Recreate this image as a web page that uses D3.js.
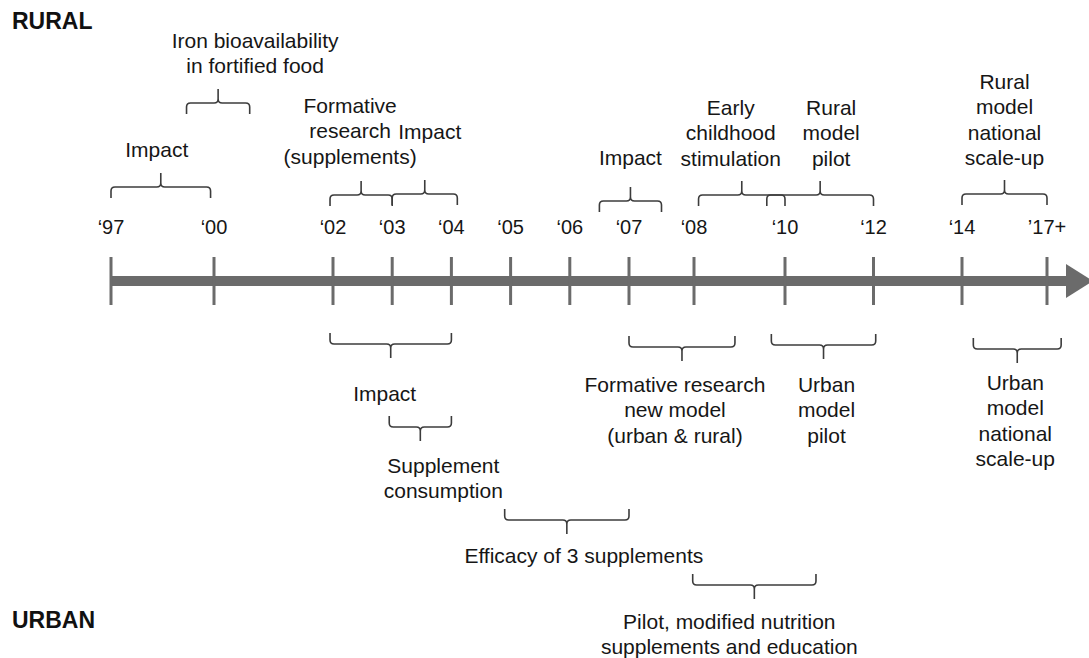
<!DOCTYPE html>
<html><head><meta charset="utf-8">
<script src="https://cdn.jsdelivr.net/npm/d3@7"></script>
<style>body{margin:0;background:#fff}svg{display:block}</style>
</head><body>
<script>
// ---------- data ----------
const tickYears  = [1997, 2000, 2002, 2003, 2004, 2005, 2006, 2007, 2008, 2010, 2012, 2014, 2017];
const tickLabels = ["‘97","‘00","‘02","‘03","‘04","‘05","‘06","‘07","‘08","‘10","‘12","‘14","’17+"];
const sideLabels = ["RURAL", "URBAN"];

const eventLabels = [
  "Impact",
  "Iron bioavailability\nin fortified food",
  "Formative\nresearch\n(supplements)",
  "Impact",
  "Impact",
  "Early\nchildhood\nstimulation",
  "Rural\nmodel\npilot",
  "Rural\nmodel\nnational\nscale-up",
  "Impact",
  "Supplement\nconsumption",
  "Efficacy of 3 supplements",
  "Formative research\nnew model\n(urban & rural)",
  "Urban\nmodel\npilot",
  "Pilot, modified nutrition\nsupplements and education",
  "Urban\nmodel\nnational\nscale-up"
];
const eventStart = [1997, 1999.2, 2001.95, 2003, 2006.5, 2008.1, 2009.6, 2014, 2001.95, 2002.95, 2004.9, 2007, 2009.7, 2007.98, 2014.4];
const eventEnd   = [1999.9, 2000.6, 2003, 2004.1, 2007.5, 2010, 2012, 2017, 2004, 2004, 2007, 2008.9, 2012.05, 2010.7, 2017.5];
const eventSide  = ["rural","rural","rural","rural","rural","rural","rural","rural",
                    "urban","urban","urban","urban","urban","urban","urban"];

// ---------- layout (positions only) ----------
const W = 1089, H = 658;
const knotYears = [1997, 2000, 2002, 2007, 2008, 2010, 2014, 2017];
const knotX     = [111, 214, 333, 629, 694, 785, 962, 1047];
const bracketY  = [187, 103, 195, 194, 201, 195, 195, 194, 344, 427, 520, 347, 345, 585, 349];
const labelY    = [157, 48, 113, 139, 165, 115, 115, 89, 401, 473, 563, 392, 392, 629, 390];
const labelDx   = [-4, 37, -11, 5, 0, -11, 11, 0, -6, 23, 17, -7, 3, -25, -2];
const lineH = 25.3;
const FONT = "'Liberation Sans', Arial, Helvetica, sans-serif";
const AXIS_C = "#6b6b6b", BR_C = "#3c3c3c", TXT_C = "#161616";

const x = d3.scaleLinear().domain(knotYears).range(knotX);

const svg = d3.select("body").append("svg").attr("width", W).attr("height", H)
  .style("font-family", FONT);

// ---------- axis ----------
const axisY = 281;
const x0 = x(tickYears[0]), xEnd = x(tickYears[tickYears.length - 1]);
svg.append("rect").attr("x", x0).attr("y", axisY - 5).attr("width", xEnd + 20 - x0).attr("height", 10)
  .attr("fill", AXIS_C);
svg.append("path")
  .attr("d", `M${xEnd + 19},${axisY - 17}L${xEnd + 46},${axisY}L${xEnd + 19},${axisY + 17}Z`)
  .attr("fill", AXIS_C);

svg.selectAll("line.tick").data(tickYears).join("line").attr("class", "tick")
  .attr("x1", d => x(d)).attr("x2", d => x(d))
  .attr("y1", axisY - 24).attr("y2", axisY + 24)
  .attr("stroke", AXIS_C).attr("stroke-width", 3);

svg.selectAll("text.tl").data(tickYears).join("text").attr("class", "tl")
  .attr("x", d => x(d)).attr("y", 234)
  .attr("text-anchor", "middle").attr("font-size", 20).attr("fill", TXT_C)
  .text((d, i) => tickLabels[i]);

// ---------- side labels ----------
svg.selectAll("text.side").data(sideLabels).join("text").attr("class", "side")
  .attr("x", 12).attr("y", (d, i) => i === 0 ? 29 : 628)
  .attr("font-size", 23).attr("font-weight", "bold").attr("fill", "#111")
  .text(d => d);

// ---------- brackets ----------
function bracePath(xa, xb, y, d) {
  const e = 11, t = 14, r = 4;
  const cx = (xa + xb) / 2;
  return `M${xa},${y - d * e}L${xa},${y - d * r}Q${xa},${y} ${xa + r},${y}` +
         `L${cx - r},${y}Q${cx},${y} ${cx},${y + d * r}L${cx},${y + d * t}` +
         `M${cx},${y + d * r}Q${cx},${y} ${cx + r},${y}` +
         `L${xb - r},${y}Q${xb},${y} ${xb},${y - d * r}L${xb},${y - d * e}`;
}

const idx = d3.range(eventLabels.length);
svg.selectAll("path.brace").data(idx).join("path").attr("class", "brace")
  .attr("d", i => bracePath(x(eventStart[i]), x(eventEnd[i]), bracketY[i], eventSide[i] === "rural" ? -1 : 1))
  .attr("fill", "none").attr("stroke", BR_C).attr("stroke-width", 1.6);

const lab = svg.selectAll("text.ev").data(idx).join("text").attr("class", "ev")
  .attr("text-anchor", "middle").attr("font-size", 21).attr("fill", TXT_C);
lab.each(function (i) {
  const cx = (x(eventStart[i]) + x(eventEnd[i])) / 2 + labelDx[i];
  d3.select(this).selectAll("tspan").data(eventLabels[i].split("\n")).join("tspan")
    .attr("x", cx).attr("y", (s, k) => labelY[i] + k * lineH).text(s => s);
});
</script>
</body></html>
